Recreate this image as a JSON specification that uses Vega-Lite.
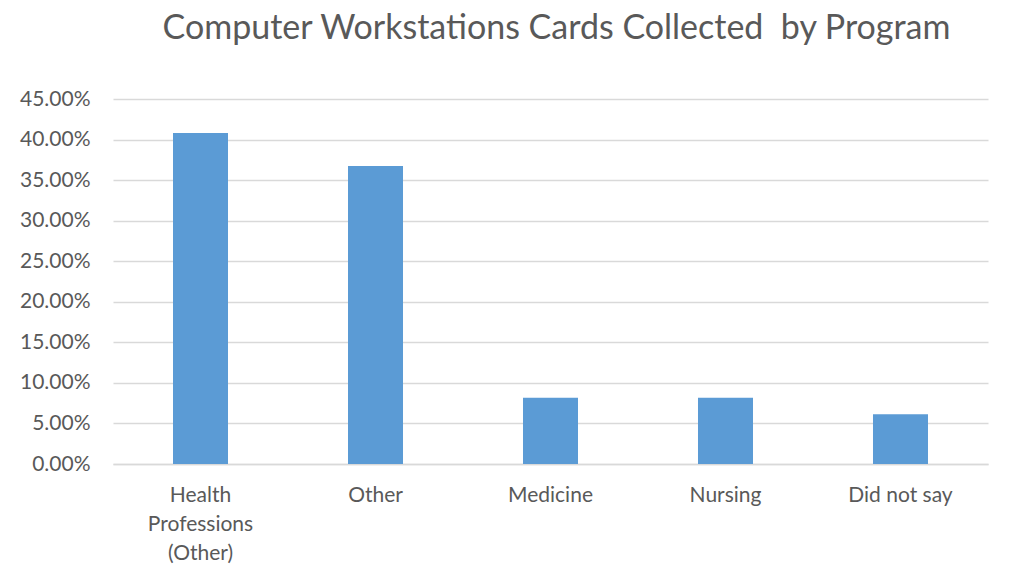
{
  "$schema": "https://vega.github.io/schema/vega-lite/v6.json",
  "width": 875,
  "height": 365,
  "autosize": {"type": "none"},
  "padding": {"left": 113, "top": 99, "right": 30, "bottom": 119},
  "background": "white",
  "title": {
    "text": "Computer Workstations Cards Collected\u00a0 by Program",
    "font": "Lato",
    "fontSize": 34,
    "fontWeight": "normal",
    "color": "#595959",
    "anchor": "middle",
    "offset": 42,
    "dx": 6
  },
  "data": {
    "values": [
      {"program": "Health Professions (Other)", "share": 0.4082},
      {"program": "Other", "share": 0.3673},
      {"program": "Medicine", "share": 0.0816},
      {"program": "Nursing", "share": 0.0816},
      {"program": "Did not say", "share": 0.0612}
    ]
  },
  "mark": {"type": "bar", "color": "#5b9bd5"},
  "encoding": {
    "x": {
      "field": "program",
      "type": "nominal",
      "sort": null,
      "scale": {"paddingInner": 0.6857, "paddingOuter": 0.3429},
      "axis": {
        "title": null,
        "labelAngle": 0,
        "labelFont": "Lato",
        "labelFontSize": 21,
        "labelColor": "#595959",
        "labelPadding": 20,
        "labelLineHeight": 29,
        "ticks": false,
        "domain": true,
        "domainColor": "#d9d9d9",
        "domainWidth": 1.5,
        "labelExpr": "datum.label == 'Health Professions (Other)' ? ['Health', 'Professions', '(Other)'] : datum.label"
      }
    },
    "y": {
      "field": "share",
      "type": "quantitative",
      "scale": {"domain": [0, 0.45], "nice": false},
      "axis": {
        "title": null,
        "values": [0, 0.05, 0.1, 0.15, 0.2, 0.25, 0.3, 0.35, 0.4, 0.45],
        "format": ".2%",
        "labelFont": "Lato",
        "labelFontSize": 21,
        "labelColor": "#595959",
        "labelPadding": 23,
        "ticks": false,
        "domain": false,
        "grid": true,
        "gridColor": "#d9d9d9",
        "gridWidth": 1.5
      }
    }
  },
  "config": {"view": {"stroke": null}}
}
